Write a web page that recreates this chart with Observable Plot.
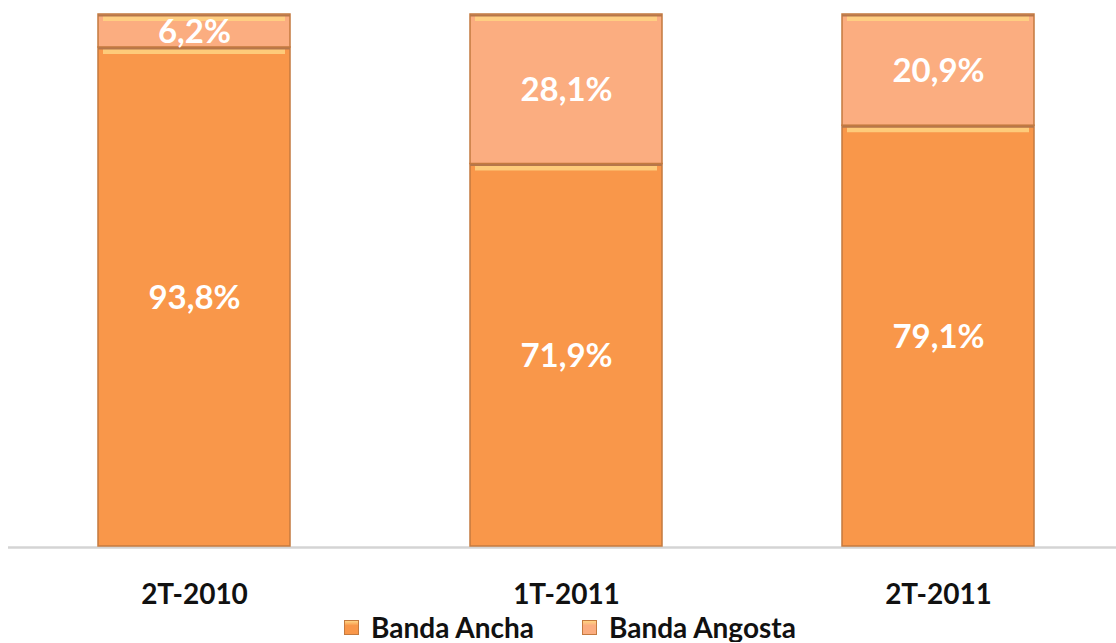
<!DOCTYPE html>
<html>
<head>
<meta charset="utf-8">
<script src="https://cdn.jsdelivr.net/npm/d3@7"></script>
<script src="https://cdn.jsdelivr.net/npm/@observablehq/plot@0.6"></script>
<style>
  html, body { margin: 0; padding: 0; background: #fff; overflow: hidden; }
  #chart { width: 1116px; }
  .legend { display: flex; justify-content: center; gap: 48px; font-family: Lato, "Open Sans", sans-serif; font-weight: bold; font-size: 28px; color: #111; padding-left: 24px; margin-top: 0px; line-height: 30px; }
  .legend .item { display: flex; align-items: center; gap: 12px; }
  .legend .sw { width: 15px; height: 15px; display: inline-block; box-sizing: border-box; }
</style>
</head>
<body>
<div id="chart"></div>
<script>
const periods = ["2T-2010", "1T-2011", "2T-2011"];
const seriesNames = ["Banda Ancha", "Banda Angosta"];
const bandaAncha = [93.8, 71.9, 79.1];
const bandaAngosta = [6.2, 28.1, 20.9];
const colors = ["#F9974A", "#FBAD80"];

const rows = [];
periods.forEach((p, i) => {
  rows.push({period: p, series: seriesNames[0], value: bandaAncha[i]});
  rows.push({period: p, series: seriesNames[1], value: bandaAngosta[i]});
});

const fmt = v => v.toFixed(1).replace(".", ",") + "%";

const plot = Plot.plot({
  width: 1116,
  height: 612,
  marginTop: 14,
  marginBottom: 66,
  marginLeft: 8,
  marginRight: 0,
  style: {fontFamily: "Lato, 'Open Sans', sans-serif", background: "#fff"},
  x: {domain: periods, range: [8, 1124], paddingInner: 0.484, paddingOuter: 0.242, label: null},
  y: {domain: [0, 100], axis: null},
  color: {domain: seriesNames, range: colors},
  marks: [
    Plot.ruleY([0], {stroke: "#d4d4d4", strokeWidth: 2.5, dy: 1}),
    Plot.barY(rows, Plot.stackY({x: "period", y: "value", fill: "series", stroke: "#c47a3f", strokeWidth: 1.5, order: null})),
    Plot.tickY(rows, Plot.stackY2({x: "period", y: "value", stroke: "#ffd483", strokeWidth: 5, dy: 4, inset: 5, strokeOpacity: 0.85})),
    Plot.tickY(rows, Plot.stackY2({x: "period", y: "value", stroke: "#b7774a", strokeWidth: 2, dy: 1})),
    Plot.text(rows, Plot.stackY({x: "period", y: "value", text: d => fmt(d.value), fill: "white", fontSize: 33, fontWeight: "bold", dy: 1})),
    Plot.axisX({tickSize: 0, tickPadding: 38, fontSize: 28, fontWeight: "bold", fill: "#111", label: null})
  ]
});
document.getElementById("chart").appendChild(plot);

const legend = document.createElement("div");
legend.className = "legend";
seriesNames.forEach((name, i) => {
  const item = document.createElement("span");
  item.className = "item";
  const sw = document.createElement("span");
  sw.className = "sw";
  sw.style.background = `linear-gradient(to bottom, #ffd483 0%, ${colors[i]} 35%, ${colors[i]} 100%)`;
  sw.style.border = "1px solid #c47a3f";
  const t = document.createElement("span");
  t.textContent = name;
  item.appendChild(sw);
  item.appendChild(t);
  legend.appendChild(item);
});
document.getElementById("chart").appendChild(legend);
</script>
</body>
</html>
